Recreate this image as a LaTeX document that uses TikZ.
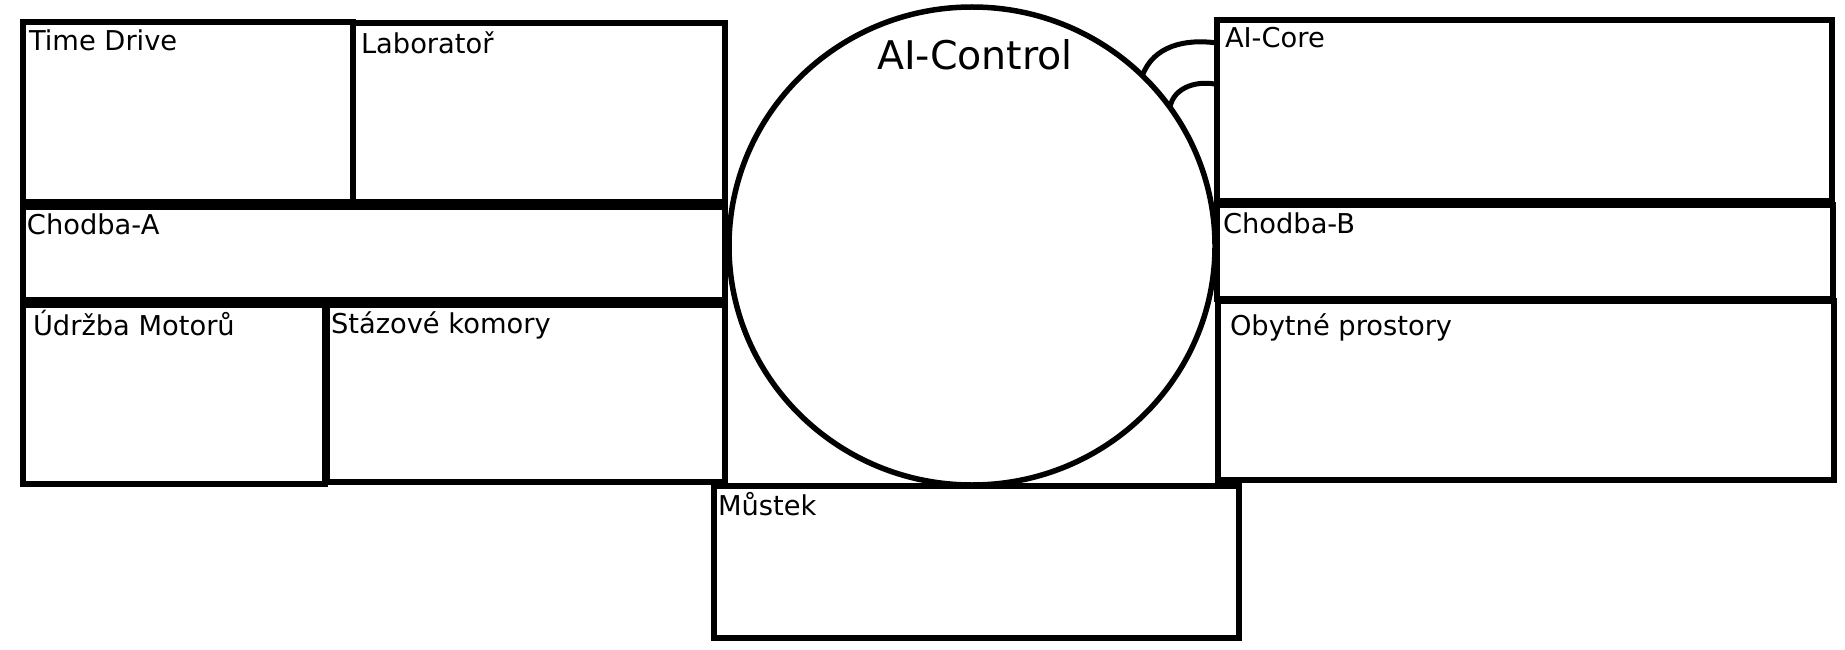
\documentclass[tikz,border=0pt]{standalone}
\usepackage{fontspec}
\setmainfont{DejaVu Sans}
\usetikzlibrary{shapes.geometric,calc}
\tikzset{
  room/.style={draw=black, line width=5.5pt, fill=none, inner sep=0pt, outer sep=0pt, anchor=north west},
  lbl/.style={inner sep=0pt, outer sep=0pt, anchor=base west, font=\fontsize{27.3}{32}\selectfont},
  link/.style={draw=black, line width=5pt},
}
\begin{document}
\begin{tikzpicture}[x=1pt,y=-1pt]
\useasboundingbox (0,0) rectangle (1845,650);
% left rooms
\node[room, minimum width=330pt, minimum height=180pt] (td) at (23,22) {};
\node[room, minimum width=372pt, minimum height=179pt] (lab) at (353,23) {};
\node[room, minimum width=702pt, minimum height=93pt] (cha) at (23,207) {};
\node[room, minimum width=302pt, minimum height=179pt] (udr) at (23,305) {};
\node[room, minimum width=398pt, minimum height=177pt] (sta) at (327,305) {};
% right rooms
\node[room, minimum width=615pt, minimum height=181pt] (core) at (1217,20) {};
\node[room, minimum width=616pt, minimum height=94pt] (chb) at (1217,205) {};
\node[room, minimum width=616pt, minimum height=179pt] (oby) at (1218,301) {};
% bottom
\node[room, minimum width=525pt, minimum height=152pt] (mus) at (714,486) {};
% control
\node[draw=black, line width=5.5pt, ellipse, minimum width=486pt, minimum height=478pt, inner sep=0pt, outer sep=0pt] (ctrl) at (972,246) {};
\node[inner sep=0pt, anchor=base, font=\fontsize{39.5}{46}\selectfont] (ctrltxt) at (975,70) {AI-Control};
% labels
\node[lbl] (tdl) at (29,51) {Time Drive};
\node[lbl] (labl) at (361,54) {Laboratoř};
\node[lbl] (chal) at (27,234) {Chodba-A};
\node[lbl] (udrl) at (33,335) {Údržba Motorů};
\node[lbl] (stal) at (331,333) {Stázové komory};
\node[lbl] (corel) at (1225,48) {AI-Core};
\node[lbl] (chbl) at (1223,233) {Chodba-B};
\node[lbl] (obyl) at (1230,335) {Obytné prostory};
\node[lbl] (musl) at (718,515) {Můstek};
% links
\coordinate (c1) at ($(core.north west)+(0,23)$);
\coordinate (c2) at ($(core.north west)+(2,65)$);
\draw[link] (ctrl.45) to[out=70,in=172] (c1);
\draw[link] (ctrl.35) to[out=80,in=165] (c2);
\end{tikzpicture}
\end{document}
